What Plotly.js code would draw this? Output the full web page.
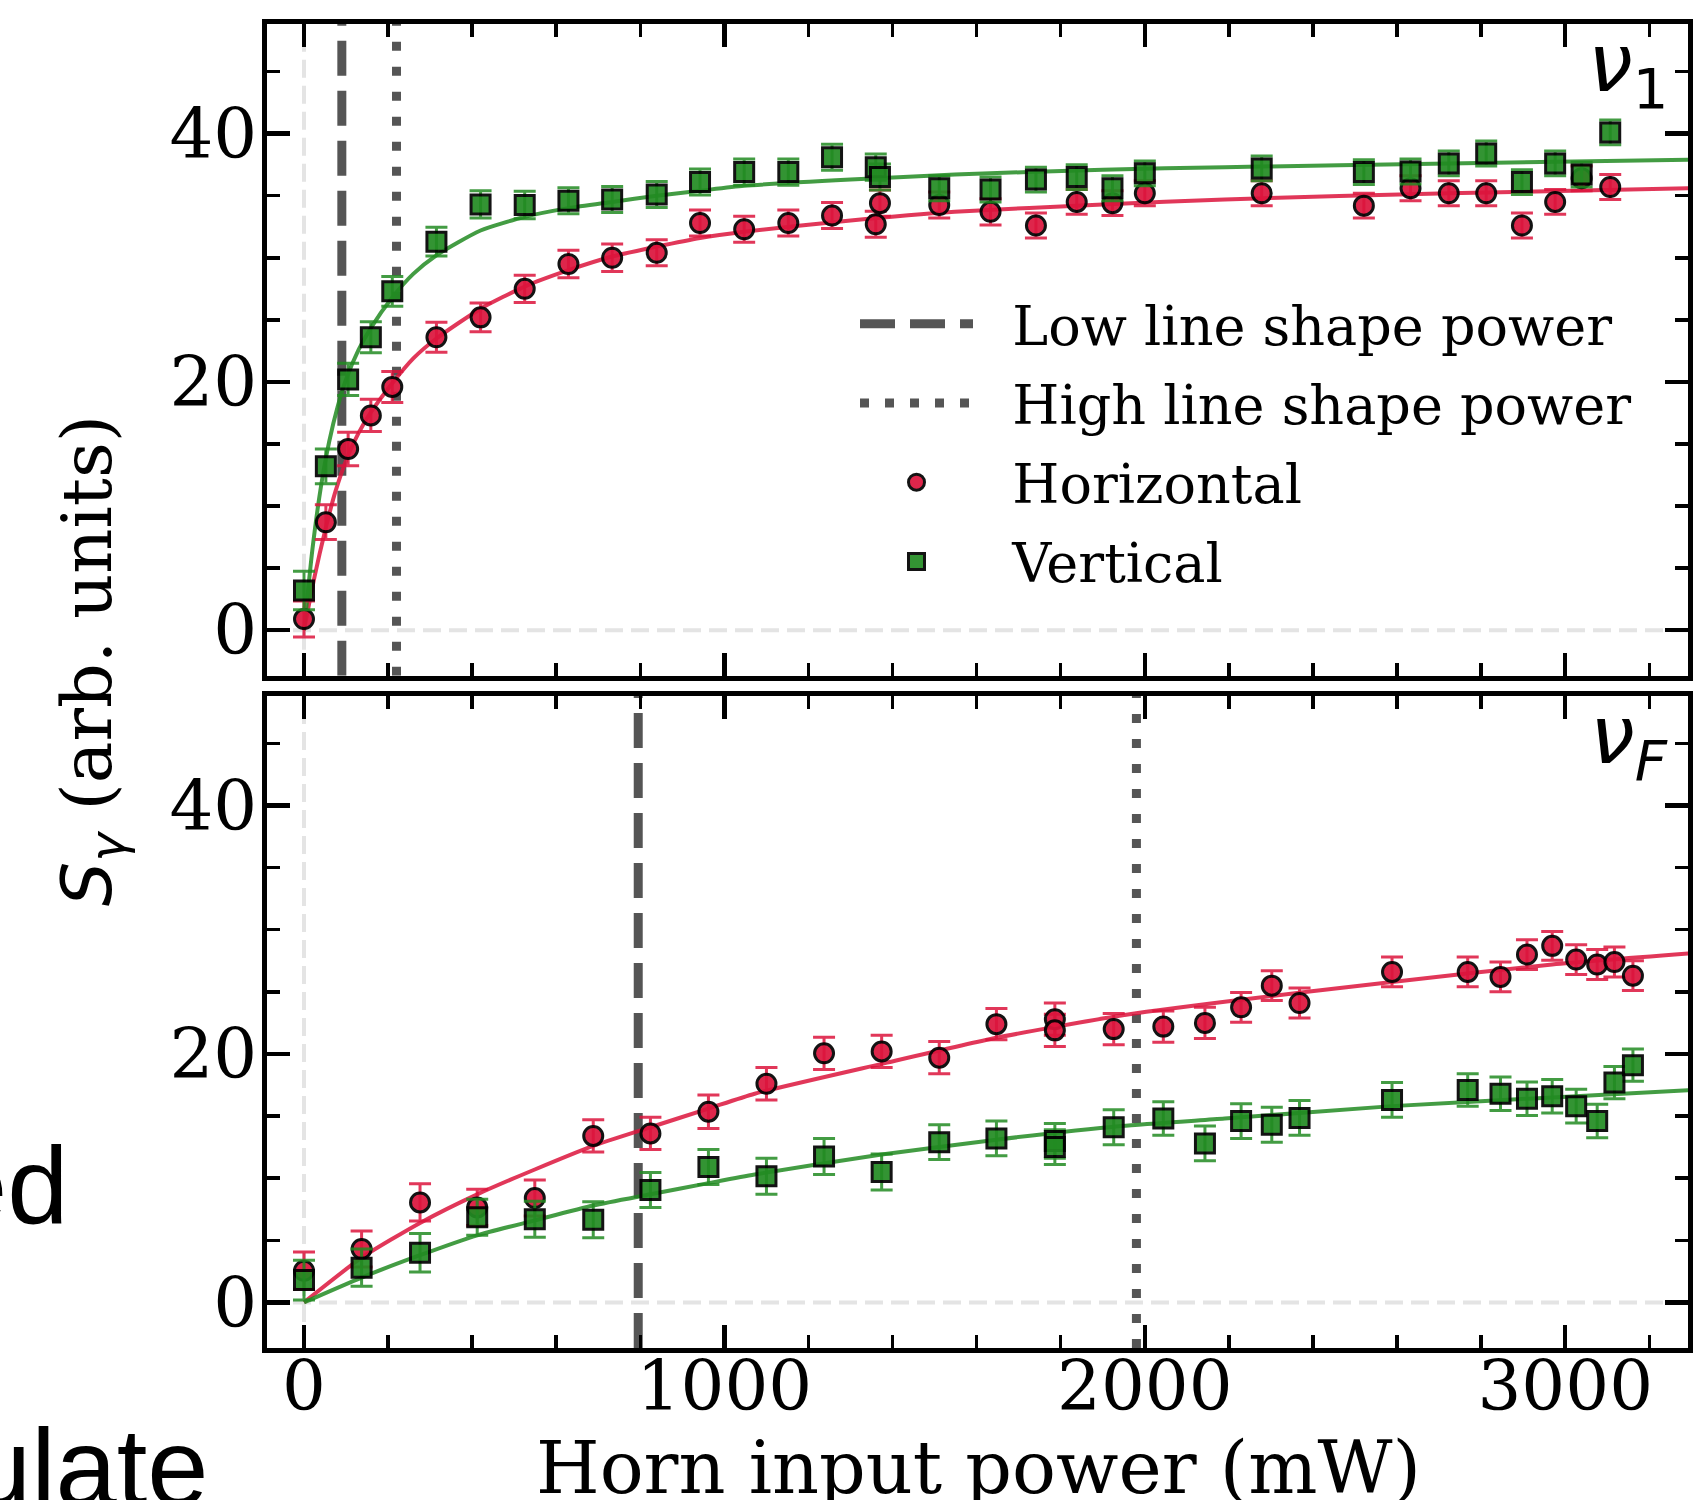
<!DOCTYPE html>
<html><head><meta charset="utf-8">
<script src="https://cdn.plot.ly/plotly-3.0.1.min.js"></script>
<style>html,body{margin:0;padding:0;background:#fff;overflow:hidden}#chart{width:1693px;height:1500px}</style>
</head><body><div id="chart"></div>
<script>
// ---------- data ----------
// upper panel: nu_1
const POWER_V1 = [0, 52, 105, 159, 210, 315, 420, 525, 629, 733, 839, 942, 1047, 1152, 1256, 1360, 1370, 1511, 1633, 1741, 1838, 1923, 2000, 2278, 2521, 2632, 2723, 2812, 2897, 2976, 3039, 3107];
const HORIZ_V1 = [0.9, 8.7, 14.6, 17.3, 19.6, 23.6, 25.2, 27.5, 29.5, 30.0, 30.4, 32.8, 32.3, 32.8, 33.4, 32.7, 34.4, 34.25, 33.7, 32.6, 34.5, 34.4, 35.2, 35.2, 34.2, 35.6, 35.2, 35.2, 32.6, 34.5, 36.4, 35.7];
const HORIZ_V1_ERR = [1.45, 1.4, 1.35, 1.3, 1.25, 1.2, 1.15, 1.1, 1.1, 1.1, 1.05, 1.05, 1.05, 1.05, 1.05, 1.05, 1.05, 1.05, 1.05, 1.0, 1.0, 1.0, 1.0, 1.0, 1.0, 1.0, 1.0, 1.0, 1.0, 1.0, 1.0, 1.0];
const VERT_V1 = [3.2, 13.2, 20.2, 23.6, 27.3, 31.3, 34.3, 34.25, 34.6, 34.7, 35.1, 36.1, 36.9, 36.9, 38.1, 37.3, 36.5, 35.6, 35.5, 36.3, 36.5, 35.6, 36.8, 37.2, 36.9, 36.95, 37.6, 38.4, 36.1, 37.6, 36.7, 40.1];
const VERT_V1_ERR = [1.55, 1.4, 1.3, 1.25, 1.2, 1.15, 1.1, 1.1, 1.05, 1.05, 1.05, 1.05, 1.05, 1.05, 1.05, 1.05, 1.05, 1.0, 1.0, 1.0, 1.0, 1.0, 1.0, 1.0, 1.0, 1.0, 1.0, 1.0, 1.0, 1.0, 1.0, 1.0];
const FIT_H_V1_X = [0, 25, 50, 75, 105, 130, 160, 210, 260, 315, 420, 526, 629, 733, 839, 942, 1047, 1300, 1548, 1900, 2190, 2723, 3300];
const FIT_H_V1_Y = [0, 4.3, 8.0, 11.2, 14.1, 15.9, 17.6, 19.9, 21.9, 23.5, 25.9, 27.7, 29.0, 30.1, 30.9, 31.6, 32.1, 33.0, 33.7, 34.3, 34.7, 35.2, 35.6];
const FIT_V_V1_X = [0, 20, 40, 60, 80, 100, 130, 160, 210, 260, 315, 420, 526, 629, 733, 839, 942, 1047, 1300, 1548, 1900, 2190, 2723, 3300];
const FIT_V_V1_Y = [0, 6.5, 11.5, 15.2, 18.0, 20.2, 22.6, 24.4, 26.8, 28.7, 30.2, 32.2, 33.3, 34.0, 34.5, 35.0, 35.4, 35.8, 36.3, 36.7, 37.1, 37.3, 37.6, 37.9];

// lower panel: nu_F
const POWER_VF = [0, 137, 276, 412, 549, 688, 824, 962, 1100, 1237, 1374, 1511, 1647, 1786, 1786, 1926, 2044, 2143, 2229, 2302, 2368, 2588, 2768, 2846, 2909, 2969, 3026, 3076, 3117, 3161];
const HORIZ_VF = [2.55, 4.3, 8.05, 7.65, 8.4, 13.4, 13.6, 15.35, 17.6, 20.05, 20.2, 19.7, 22.4, 22.8, 21.9, 22.0, 22.2, 22.5, 23.75, 25.5, 24.1, 26.6, 26.6, 26.2, 28.0, 28.7, 27.6, 27.2, 27.4, 26.3];
const HORIZ_VF_ERR = [1.5, 1.45, 1.5, 1.45, 1.45, 1.3, 1.3, 1.35, 1.3, 1.3, 1.3, 1.3, 1.25, 1.3, 1.3, 1.25, 1.25, 1.25, 1.2, 1.2, 1.2, 1.2, 1.2, 1.2, 1.2, 1.15, 1.2, 1.2, 1.2, 1.2];
const VERT_VF = [1.8, 2.8, 4.0, 6.85, 6.7, 6.65, 9.05, 10.9, 10.15, 11.75, 10.5, 12.9, 13.2, 13.0, 12.5, 14.1, 14.8, 12.8, 14.6, 14.3, 14.85, 16.3, 17.1, 16.8, 16.4, 16.6, 15.8, 14.6, 17.7, 19.1];
const VERT_VF_ERR = [1.6, 1.5, 1.55, 1.45, 1.45, 1.45, 1.4, 1.4, 1.45, 1.45, 1.45, 1.4, 1.4, 1.4, 1.4, 1.4, 1.35, 1.4, 1.4, 1.4, 1.4, 1.4, 1.3, 1.35, 1.35, 1.35, 1.35, 1.35, 1.3, 1.3];
const FIT_VF_X = [0, 137, 276, 412, 549, 688, 824, 962, 1072, 1374, 1647, 1944, 2190, 2588, 2969, 3300];
const FIT_H_VF_Y = [0, 3.6, 6.4, 8.7, 10.7, 12.6, 14.1, 15.6, 16.8, 19.2, 21.3, 23.1, 24.2, 25.8, 27.2, 28.1];
const FIT_V_VF_Y = [0, 2.0, 3.8, 5.4, 6.6, 7.8, 8.7, 9.6, 10.3, 11.9, 13.1, 14.2, 14.8, 15.8, 16.5, 17.1];

// line-shape power markers [nu_1 panel, nu_F panel]
const LOW_LINE_SHAPE_POWER = [90, 795];
const HIGH_LINE_SHAPE_POWER = [220, 1980];

const X_TICKS = [0, 1000, 2000, 3000];
const X_TICK_LABELS = ['0', '1000', '2000', '3000'];
const Y_TICKS = [0, 20, 40];
const Y_TICK_LABELS = ['0', '20', '40'];
const LEGEND_NAMES = ['Low line shape power', 'High line shape power', 'Horizontal', 'Vertical'];
const PANEL_LABELS = ['<i>ν</i><sub>1</sub>', '<i>ν</i><sub><i>F</i></sub>'];
const X_TITLE = 'Horn input power (mW)';
const Y_TITLE = '<span style="font-family:DejaVu Sans"><i>S</i><sub><i>γ</i></sub></span> (arb. units)';
const SLIDE_FRAGMENTS = ['ed', 'ulate'];

// ---------- styling ----------
const X_RANGE = [-88, 3292];
const Y_RANGE = [-3.67, 48.83];
const RED = '#DC143C', GREEN = '#228B22';
const RED_A = 'rgba(220,20,60,0.85)', GREEN_A = 'rgba(34,139,34,0.85)';
const SERIF = 'DejaVu Serif';
const NBSP = '\u00A0';

function pointsTrace(x, y, err, color, colA, symbol, name, xa, ya, showlegend, rank) {
  return {
    type: 'scatter', mode: 'markers', x: x, y: y, xaxis: xa, yaxis: ya,
    name: NBSP + NBSP + name, showlegend: showlegend, legendrank: rank, legendgroup: name,
    marker: {symbol: symbol, size: 19, color: color, opacity: 0.92, line: {color: '#000', width: 3}},
    error_y: {type: 'data', array: err, visible: true, color: colA, thickness: 3, width: 11}
  };
}
function fitTrace(x, y, color, xa, ya) {
  return {type: 'scatter', mode: 'lines', x: x, y: y, xaxis: xa, yaxis: ya, showlegend: false,
    line: {color: color, width: 4, shape: 'spline', smoothing: 0.6}, hoverinfo: 'skip'};
}
function vlineTrace(xv, dash, width, name, xa, ya, showlegend, rank) {
  return {type: 'scatter', mode: 'lines', x: [xv, xv], y: [Y_RANGE[0], Y_RANGE[1]], xaxis: xa, yaxis: ya,
    name: NBSP + NBSP + name, showlegend: showlegend, legendrank: rank, legendgroup: name,
    line: {color: '#555555', width: width, dash: dash}, hoverinfo: 'skip'};
}

const DASH = '35px,15px', DOT = '9px,16px';
const traces = [
  vlineTrace(LOW_LINE_SHAPE_POWER[0], DASH, 9, LEGEND_NAMES[0], 'x', 'y', true, 1),
  vlineTrace(HIGH_LINE_SHAPE_POWER[0], DOT, 9, LEGEND_NAMES[1], 'x', 'y', true, 2),
  vlineTrace(LOW_LINE_SHAPE_POWER[1], DASH, 9, LEGEND_NAMES[0], 'x2', 'y2', false, 1),
  vlineTrace(HIGH_LINE_SHAPE_POWER[1], DOT, 9, LEGEND_NAMES[1], 'x2', 'y2', false, 2),
  fitTrace(FIT_H_V1_X, FIT_H_V1_Y, RED_A, 'x', 'y'),
  fitTrace(FIT_V_V1_X, FIT_V_V1_Y, GREEN_A, 'x', 'y'),
  fitTrace(FIT_VF_X, FIT_H_VF_Y, RED_A, 'x2', 'y2'),
  fitTrace(FIT_VF_X, FIT_V_VF_Y, GREEN_A, 'x2', 'y2'),
  pointsTrace(POWER_V1, HORIZ_V1, HORIZ_V1_ERR, RED, RED_A, 'circle', LEGEND_NAMES[2], 'x', 'y', true, 3),
  pointsTrace(POWER_V1, VERT_V1, VERT_V1_ERR, GREEN, GREEN_A, 'square', LEGEND_NAMES[3], 'x', 'y', true, 4),
  pointsTrace(POWER_VF, HORIZ_VF, HORIZ_VF_ERR, RED, RED_A, 'circle', LEGEND_NAMES[2], 'x2', 'y2', false, 3),
  pointsTrace(POWER_VF, VERT_VF, VERT_VF_ERR, GREEN, GREEN_A, 'square', LEGEND_NAMES[3], 'x2', 'y2', false, 4)
];

const tickFont = {family: SERIF, size: 69, color: '#000'};
function xAxis(anchor, showLabels) {
  return {
    anchor: anchor, domain: [0, 1], range: X_RANGE, tickmode: 'array', tickvals: X_TICKS, ticktext: X_TICK_LABELS,
    showticklabels: showLabels, ticks: 'inside', ticklen: 23, tickwidth: 4.5, tickcolor: '#000',
    minor: {ticks: 'inside', ticklen: 13, tickwidth: 3.5, tickcolor: '#000', dtick: 200, tick0: 0, showgrid: false},
    showline: true, linewidth: 5, linecolor: '#000', mirror: 'allticks', showgrid: false, zeroline: false,
    tickfont: tickFont, ticklabelstandoff: -26
  };
}
function yAxis(anchor, domain) {
  return {
    anchor: anchor, domain: domain, range: Y_RANGE, tickmode: 'array', tickvals: Y_TICKS, ticktext: Y_TICK_LABELS,
    ticks: 'inside', ticklen: 23, tickwidth: 4.5, tickcolor: '#000',
    minor: {ticks: 'inside', ticklen: 13, tickwidth: 3.5, tickcolor: '#000', dtick: 5, tick0: 0, showgrid: false},
    showline: true, linewidth: 5, linecolor: '#000', mirror: 'allticks', showgrid: false, zeroline: false,
    tickfont: tickFont, ticklabelstandoff: -9
  };
}

const refLine = {color: '#e4e4e4', width: 4, dash: '18px,8px'};
const shapes = [
  {type: 'line', xref: 'x', yref: 'y domain', x0: 0, x1: 0, y0: 0, y1: 1, line: refLine, layer: 'below'},
  {type: 'line', xref: 'x domain', yref: 'y', x0: 0, x1: 1, y0: 0, y1: 0, line: refLine, layer: 'below'},
  {type: 'line', xref: 'x2', yref: 'y2 domain', x0: 0, x1: 0, y0: 0, y1: 1, line: refLine, layer: 'below'},
  {type: 'line', xref: 'x2 domain', yref: 'y2', x0: 0, x1: 1, y0: 0, y1: 0, line: refLine, layer: 'below'}
];

// plot area in pixels: left 267, width 1421, top 24, height 1323.5
const PX = (px) => (px - 267) / 1421;
const PY = (py) => (1347.5 - py) / 1323.5;

const annotations = [
  {xref: 'x domain', yref: 'y domain', x: 0.987, y: 1.014, xanchor: 'right', yanchor: 'top', showarrow: false,
   text: PANEL_LABELS[0], font: {family: 'DejaVu Sans', size: 80, color: '#000'}},
  {xref: 'x2 domain', yref: 'y2 domain', x: 0.987, y: 1.014, xanchor: 'right', yanchor: 'top', showarrow: false,
   text: PANEL_LABELS[1], font: {family: 'DejaVu Sans', size: 80, color: '#000'}},
  {xref: 'paper', yref: 'paper', x: PX(92), y: PY(661), xanchor: 'center', yanchor: 'middle', textangle: -90, showarrow: false,
   text: Y_TITLE, font: {family: SERIF, size: 70, color: '#000'}},
  {xref: 'paper', yref: 'paper', x: PX(978), y: PY(1422), xanchor: 'center', yanchor: 'top', showarrow: false,
   text: X_TITLE, font: {family: SERIF, size: 73, color: '#000'}},
  {xref: 'paper', yref: 'paper', x: PX(70), y: PY(1184), xanchor: 'right', yanchor: 'middle', showarrow: false,
   text: SLIDE_FRAGMENTS[0], font: {family: 'Liberation Sans', size: 110, color: '#000'}},
  {xref: 'paper', yref: 'paper', x: PX(211), y: PY(1466), xanchor: 'right', yanchor: 'middle', showarrow: false,
   text: SLIDE_FRAGMENTS[1], font: {family: 'Liberation Sans', size: 110, color: '#000'}}
];

const layout = {
  width: 1693, height: 1500,
  margin: {l: 267, r: 5, t: 24, b: 152, pad: 0},
  paper_bgcolor: '#fff', plot_bgcolor: '#fff',
  font: {family: SERIF, color: '#000'},
  showlegend: true,
  legend: {x: PX(855), y: 0.805, xanchor: 'left', yanchor: 'top', bgcolor: 'rgba(0,0,0,0)',
    font: {family: SERIF, size: 54, color: '#000'}, itemwidth: 113, traceorder: 'grouped', tracegroupgap: 6, itemsizing: 'trace'},
  xaxis: xAxis('y', false),
  yaxis: yAxis('x', [0.5077, 1]),
  xaxis2: xAxis('y2', true),
  yaxis2: yAxis('x2', [0, 0.4926]),
  shapes: shapes,
  annotations: annotations,
  hovermode: false
};

Plotly.newPlot('chart', traces, layout, {displayModeBar: false, staticPlot: true});
</script></body></html>
